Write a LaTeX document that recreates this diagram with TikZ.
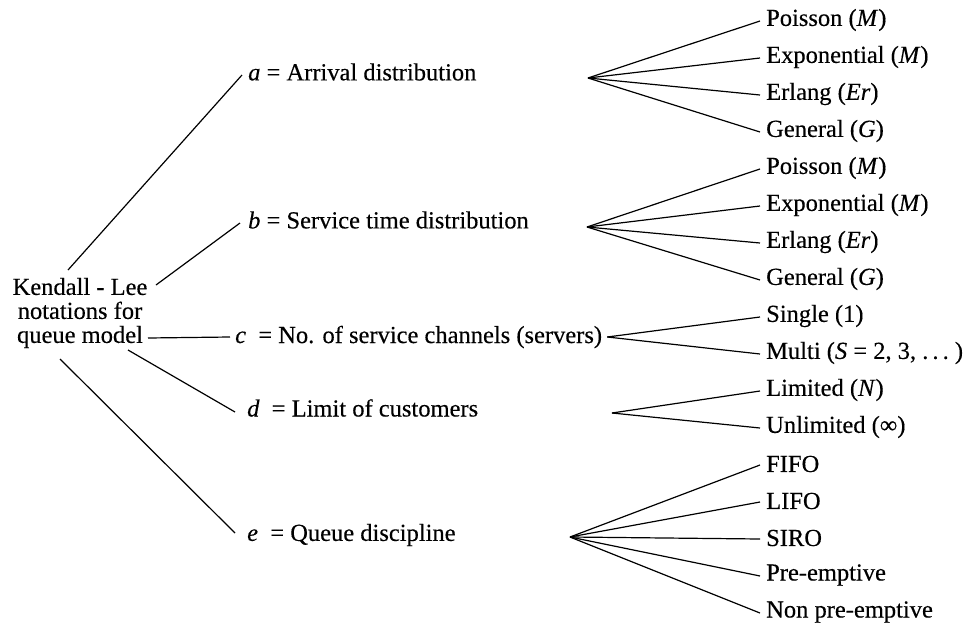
\documentclass[tikz,border=0pt]{standalone}
\usepackage{fontspec}
\setmainfont{Liberation Serif}[FakeBold=0.3]
\usetikzlibrary{calc}
\begin{document}
\begin{tikzpicture}[x=1pt,y=-1pt,
  every node/.style={font=\fontsize{24.5}{24}\selectfont, inner sep=0pt},
  lf/.style={anchor=west},
  ln/.style={line width=1.2pt}]
\useasboundingbox (0,0) rectangle (970,627);
% root
\node[align=center] (root) at (80,313) {Kendall - Lee\\notations for\\queue model};
% middle column
\node[lf] (a) at (248,72)  {\textit{a} = Arrival distribution};
\node[lf] (b) at (248,220) {\textit{b} = Service time distribution};
\node[lf] (c) at (235,337) {\textit{c}\enspace= No. of service channels (servers)};
\node[lf] (d) at (247,408) {\textit{d}\enspace= Limit of customers};
\node[lf] (e) at (247,535) {\textit{e}\enspace= Queue discipline};
% right column
\node[lf] (r1)  at (766,20)  {Poisson (\textit{M})};
\node[lf] (r2)  at (766,57)  {Exponential (\textit{M})};
\node[lf] (r3)  at (766,94)  {Erlang (\textit{Er})};
\node[lf] (r4)  at (766,131) {General (\textit{G})};
\node[lf] (r5)  at (766,168) {Poisson (\textit{M})};
\node[lf] (r6)  at (766,205) {Exponential (\textit{M})};
\node[lf] (r7)  at (766,242) {Erlang (\textit{Er})};
\node[lf] (r8)  at (766,279) {General (\textit{G})};
\node[lf] (r9)  at (766,316) {Single (1)};
\node[lf] (r10) at (766,353) {Multi (\textit{S} = 2, 3, .\,.\,.\ )};
\node[lf] (r11) at (766,390) {Limited (\textit{N})};
\node[lf] (r12) at (766,427) {Unlimited (∞)};
\node[lf] (r13) at (766,464) {FIFO};
\node[lf] (r14) at (766,501) {LIFO};
\node[lf] (r15) at (766,538) {SIRO};
\node[lf] (r16) at (766,575) {Pre-emptive};
\node[lf] (r17) at (766,612) {Non pre-emptive};
% fan origins
\coordinate (fa) at (588,78);
\coordinate (fb) at (587,227);
\coordinate (fc) at ($(c.east)+(5,0)$);
\coordinate (fd) at (612,413);
\coordinate (fe) at (570,537);
% root connectors
\draw[ln] ($(root.center)+(-12,-43)$) -- ($(a.west)+(-6,3)$);
\draw[ln] ($(root.center)+(76,-28)$)  -- ($(b.west)+(-8,3)$);
\draw[ln] ($(root.center)+(68,25)$)   -- ($(c.west)+(-5,0)$);
\draw[ln] ($(root.center)+(48,37)$)   -- ($(d.west)+(-12,4)$);
\draw[ln] ($(root.center)+(-20,46)$)  -- ($(e.west)+(-12,-2)$);
% fans
\foreach \i in {1,...,4} \draw[ln] (fa) -- ($(r\i.west)+(-6,1)$);
\foreach \i in {5,...,8} \draw[ln] (fb) -- ($(r\i.west)+(-6,1)$);
\foreach \i in {9,10} \draw[ln] (fc) -- ($(r\i.west)+(-6,1)$);
\foreach \i in {11,12} \draw[ln] (fd) -- ($(r\i.west)+(-6,1)$);
\foreach \i in {13,...,17} \draw[ln] (fe) -- ($(r\i.west)+(-6,1)$);
\end{tikzpicture}
\end{document}
